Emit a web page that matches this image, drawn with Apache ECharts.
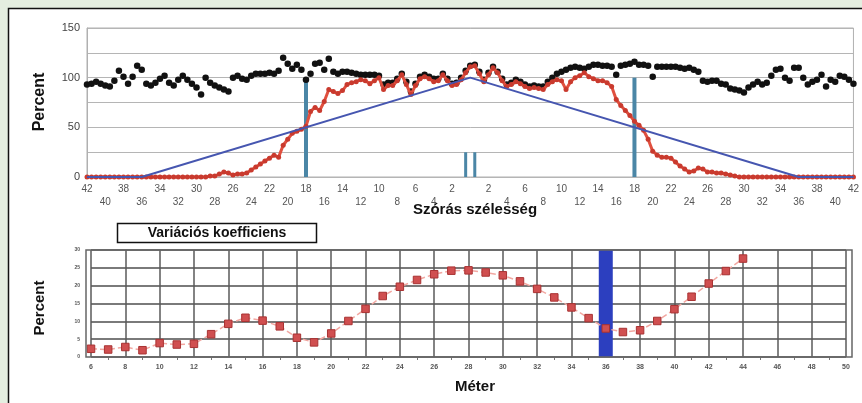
<!DOCTYPE html>
<html><head><meta charset="utf-8">
<script src="https://cdn.jsdelivr.net/npm/echarts@6/dist/echarts.min.js"></script>
<style>html,body{margin:0;padding:0;background:#e4eee0}#c{width:862px;height:403px}</style>
</head><body><div id="c"></div>
<script>
// ---- Top chart: distance from centre (m), both sides ----
var offsets = [
 -42,-41.5,-41,-40.5,-40,-39.5,-39,-38.5,-38,-37.5,
 -37,-36.5,-36,-35.5,-35,-34.5,-34,-33.5,-33,-32.5,
 -32,-31.5,-31,-30.5,-30,-29.5,-29,-28.5,-28,-27.5,
 -27,-26.5,-26,-25.5,-25,-24.5,-24,-23.5,-23,-22.5,
 -22,-21.5,-21,-20.5,-20,-19.5,-19,-18.5,-18,-17.5,
 -17,-16.5,-16,-15.5,-15,-14.5,-14,-13.5,-13,-12.5,
 -12,-11.5,-11,-10.5,-10,-9.5,-9,-8.5,-8,-7.5,
 -7,-6.5,-6,-5.5,-5,-4.5,-4,-3.5,-3,-2.5,
 -2,-1.5,-1,-0.5,0,0.5,1,1.5,2,2.5,
 3,3.5,4,4.5,5,5.5,6,6.5,7,7.5,
 8,8.5,9,9.5,10,10.5,11,11.5,12,12.5,
 13,13.5,14,14.5,15,15.5,16,16.5,17,17.5,
 18,18.5,19,19.5,20,20.5,21,21.5,22,22.5,
 23,23.5,24,24.5,25,25.5,26,26.5,27,27.5,
 28,28.5,29,29.5,30,30.5,31,31.5,32,32.5,
 33,33.5,34,34.5,35,35.5,36,36.5,37,37.5,
 38,38.5,39,39.5,40,40.5,41,41.5,42
];
// black dots: overlapped (summed) distribution, percent
var overlapPct = [
 93,94,96,94,92,91,97,107,101,94,
 101,112,108,94,92,95,99,102,95,92,
 98,102,98,94,90,83,100,95,92,90,
 88,86,100,102,99,98,102,104,104,104,
 105,104,107,120,114,109,113,108,98,104,
 114,115,108,119,106,104,106,106,105,104,
 103,103,103,103,102,93,95,95,99,104,
 96,86,94,101,103,101,99,99,104,99,
 94,95,100,107,112,113,106,98,105,111,
 106,99,93,95,98,96,93,91,92,91,
 91,96,100,104,106,108,110,111,110,109,
 111,113,113,112,112,111,103,112,113,114,
 116,113,113,112,101,111,111,111,111,111,
 110,109,110,108,106,97,96,97,97,94,
 93,89,88,87,85,90,93,96,93,95,
 102,108,109,100,97,110,110,100,93,96,
 98,103,91,98,96,102,101,98,94
];
// red line: single-pass distribution, percent
var singlePct = [
 0,0,0,0,0,0,0,0,0,0,
 0,0,0,0,0,0,0,0,0,0,
 0,0,0,0,0,0,0,1,1,3,
 5,4,2,3,3,4,7,10,13,16,
 19,22,20,32,38,44,46,48,51,66,
 70,67,76,88,86,84,87,93,95,96,
 98,97,94,97,100,88,92,92,97,103,
 93,83,92,99,101,99,96,97,103,97,
 92,93,98,105,111,112,104,96,103,110,
 105,97,91,93,96,94,91,89,90,89,
 88,93,96,98,97,88,96,100,102,105,
 101,99,97,97,95,91,78,72,67,62,
 56,52,47,38,26,22,20,20,19,15,
 11,8,5,6,9,8,5,5,4,4,
 3,2,1,0,0,0,0,0,0,0,
 0,0,0,0,0,0,0,0,0,0,
 0,0,0,0,0,0,0,0,0
];
// blue triangle (ideal pattern)
var idealX = [-42,-36,0,36,42];
var idealY = [0,0,100,0,0];
// vertical markers
var markX = [-18,18,-0.5,0.5];
var markH = [100,100,25,25];

// ---- Bottom chart: coefficient of variation vs. spacing ----
var meter = [6,7,8,9,10,11,12,13,14,15,16,17,18,19,20,21,22,23,24,25,26,27,28,29,30,31,32,33,34,35,36,37,38,39,40,41,42,43,44];
var cvPct = [2.3,2.1,2.8,1.9,3.9,3.5,3.7,6.4,9.3,11.0,10.2,8.6,5.4,4.1,6.6,10.1,13.5,17.1,19.7,21.6,23.2,24.2,24.3,23.7,22.9,21.2,19.1,16.7,13.9,10.9,8.0,7.0,7.5,10.1,13.4,16.9,20.6,24.1,27.6];
var chosenWidth = 36, chosenBarTop = 30;

var zip = function(a,b){return a.map(function(v,i){return [v,b[i]];});};

var markSeries = markX.map(function(x,i){
  return {type:'line', xAxisIndex:0, yAxisIndex:0, data:[[x,0],[x,markH[i]]],
    symbol:'none', silent:true, z:1,
    lineStyle:{color:'#4b86a6', width: i<2?4:3, cap:'butt'}};
});

var chart = echarts.init(document.getElementById('c'));
chart.setOption({
  animation:false,
  backgroundColor:'#e4eee0',
  textStyle:{fontFamily:'Liberation Sans, Arial, sans-serif'},
  grid:[
    {left:87, top:28, width:771, height:149, show:true, backgroundColor:'#fff', borderColor:'#b0b0b0', borderWidth:1},
    {left:91, top:250, width:755, height:107, show:true, backgroundColor:'#fff', borderWidth:0}
  ],
  xAxis:[
    {type:'value', gridIndex:0, min:-42, max:42, interval:2,
     axisLine:{show:false}, axisTick:{show:false}, splitLine:{show:false},
     axisLabel:{margin:6, fontSize:10, color:'#555', lineHeight:13,
       formatter:function(v){var a=Math.abs(v); if(a===0) return ''; return (a%4===0)?('\n'+a):(''+a);}}},
    {type:'value', gridIndex:1, min:6, max:50, interval:2,
     axisLine:{show:false}, axisTick:{show:false},
     minorTick:{show:true, splitNumber:2, length:3, lineStyle:{color:'#777'}},
     splitLine:{show:true, lineStyle:{color:'#5a5a5a', width:1.5}},
     axisLabel:{margin:7, fontSize:7, fontWeight:'bold', color:'#555'}}
  ],
  yAxis:[
    {type:'value', gridIndex:0, min:0, max:150, interval:25,
     axisLine:{show:true, onZero:false, lineStyle:{color:'#b0b0b0'}}, axisTick:{show:false},
     splitLine:{lineStyle:{color:'#b5b5b5', width:1}},
     axisLabel:{margin:7, fontSize:11, color:'#444', formatter:function(v){return v%50===0? v : '';}}},
    {type:'value', gridIndex:1, min:0, max:30, interval:5,
     axisLine:{show:false, onZero:false}, axisTick:{show:false},
     splitLine:{lineStyle:{color:'#7a7a7a', width:2}},
     axisLabel:{margin:11, fontSize:5, fontWeight:'bold', color:'#555'}}
  ],
  series:[].concat(markSeries, [
    {type:'scatter', xAxisIndex:0, yAxisIndex:0, data:zip(offsets, overlapPct),
     symbol:'circle', symbolSize:6.5, itemStyle:{color:'#111', opacity:1}, z:2},
    {type:'line', xAxisIndex:0, yAxisIndex:0, data:zip(offsets, singlePct),
     symbol:'circle', symbolSize:5, showAllSymbol:true,
     itemStyle:{color:'#c93a2e'}, lineStyle:{color:'#e0503f', width:3}, z:3},
    {type:'line', xAxisIndex:0, yAxisIndex:0, data:zip(idealX, idealY),
     symbol:'none', lineStyle:{color:'#4656b0', width:2}, z:4},
    {type:'bar', xAxisIndex:1, yAxisIndex:1, data:[[chosenWidth, chosenBarTop]],
     barWidth:14, itemStyle:{color:'#2c3fbf'}, z:1},
    {type:'line', xAxisIndex:1, yAxisIndex:1, data:zip(meter, cvPct),
     symbol:'rect', symbolSize:7.5, showAllSymbol:true,
     itemStyle:{color:'#d04f50', borderColor:'#a83232', borderWidth:1},
     lineStyle:{color:'#f2a8a2', width:1.5, type:'dashed'}, z:3}
  ]),
  graphic:[
    {type:'rect', z:-100, shape:{x:8.5, y:8.5, width:900, height:450}, style:{fill:'#fff', stroke:'#111', lineWidth:1.5}},
    {type:'rect', z:100, shape:{x:86, y:250, width:766, height:107}, style:{fill:null, stroke:'#666', lineWidth:1.5}},
    {type:'text', z:100, x:40, y:102, rotation:Math.PI/2, style:{text:'Percent', font:'bold 16px Liberation Sans, Arial, sans-serif', fill:'#111', align:'center', verticalAlign:'middle'}},
    {type:'text', z:100, x:475, y:210, style:{text:'Szórás szélesség', font:'bold 15px Liberation Sans, Arial, sans-serif', fill:'#111', align:'center', verticalAlign:'middle'}},
    {type:'rect', z:100, shape:{x:117.5, y:223.5, width:199, height:19}, style:{fill:'#fff', stroke:'#111', lineWidth:1.5}},
    {type:'text', z:101, x:217, y:233, style:{text:'Variációs koefficiens', font:'bold 14px Liberation Sans, Arial, sans-serif', fill:'#111', align:'center', verticalAlign:'middle'}},
    {type:'text', z:100, x:40, y:308, rotation:Math.PI/2, style:{text:'Percent', font:'bold 15px Liberation Sans, Arial, sans-serif', fill:'#111', align:'center', verticalAlign:'middle'}},
    {type:'text', z:100, x:475, y:387, style:{text:'Méter', font:'bold 15px Liberation Sans, Arial, sans-serif', fill:'#111', align:'center', verticalAlign:'middle'}}
  ]
});
</script></body></html>
